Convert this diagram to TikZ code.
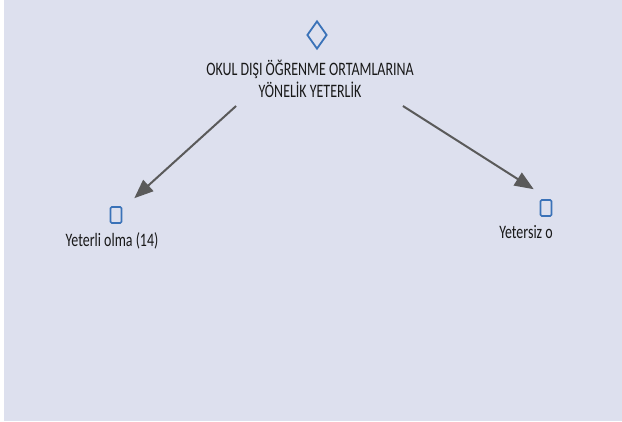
\documentclass[tikz,border=0pt]{standalone}
\usepackage{fontspec}
\setmainfont{Carlito}
\newfontfamily\narrowfont[FakeStretch=0.735]{Carlito}
\usepackage{xcolor}
\usetikzlibrary{arrows.meta,shapes.geometric}
\definecolor{bgpanel}{HTML}{DDE0EE}
\definecolor{markblue}{HTML}{3A72B8}
\definecolor{arrowgray}{HTML}{5A5A5A}

\begin{document}
\begin{tikzpicture}[x=1pt, y=-1pt,
    rootmark/.style={diamond, draw=markblue, line width=1.8pt, minimum width=20pt, minimum height=28pt, inner sep=0pt},
    leafmark/.style={rectangle, draw=markblue, line width=1.6pt, rounded corners=1.2pt, minimum width=11pt, minimum height=16pt, inner sep=0pt},
    lbl/.style={font=\narrowfont\fontsize{19}{22}\selectfont, text=black!90, align=center, inner sep=0pt},
    branch/.style={draw=arrowgray, line width=2pt, -{Triangle[length=19pt, width=15pt]}}]
    \useasboundingbox (0,0) rectangle (622,421);
    \fill[bgpanel] (4,0) rectangle (622,421);

    \node (root) [rootmark] at (317,35) {};
    \node (title) [lbl] at (310,79) {OKUL DIŞI ÖĞRENME ORTAMLARINA\\YÖNELİK YETERLİK};

    \node (yeterli) [leafmark] at (116,215) {};
    \node (yeterlitxt) [lbl] at (112,241) {Yeterli olma (14)};
    \node (yetersiz) [leafmark] at (546,208) {};
    \node (yetersiztxt) [lbl] at (526,232) {Yetersiz o};

    \draw [branch] ([xshift=30pt, yshift=-8pt]title.south west) -- ([xshift=12pt, yshift=8pt]yeterli.north east);
    \draw [branch] ([xshift=-11pt, yshift=-8pt]title.south east) -- ([xshift=-6pt, yshift=10pt]yetersiz.north west);
\end{tikzpicture}
\end{document}
